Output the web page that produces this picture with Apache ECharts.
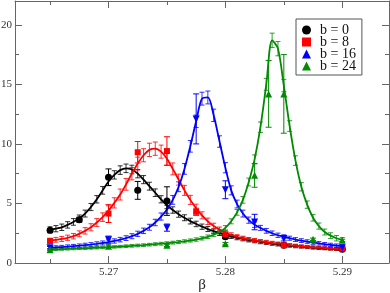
<!DOCTYPE html>
<html><head><meta charset="utf-8">
<script src="https://cdn.jsdelivr.net/npm/echarts@6/dist/echarts.min.js"></script>
<style>html,body{margin:0;padding:0;background:#fff}#c{width:390px;height:293px}</style>
</head><body><div id="c"></div>
<script>
// ---- curve grid (beta) ----
const curveBeta = [5.265,5.2655,5.266,5.2665,5.267,5.2675,5.268,5.2685,5.269,5.2695,
5.27,5.2705,5.271,5.2715,5.272,5.2725,5.273,5.2735,5.274,5.2745,
5.275,5.2755,5.276,5.2765,5.277,5.2775,5.278,5.2785,5.279,5.2795,
5.28,5.2805,5.281,5.2815,5.282,5.2825,5.283,5.2835,5.284,5.2845,
5.285,5.2855,5.286,5.2865,5.287,5.2875,5.288,5.2885,5.289,5.2895,5.29];

const curveB0 = [2.78,2.88,3.0,3.2,3.45,3.75,4.15,4.7,5.35,6.1,
6.85,7.4,7.8,7.95,7.85,7.5,7.0,6.45,5.9,5.35,
4.85,4.45,4.1,3.8,3.52,3.28,3.05,2.85,2.67,2.5,
2.36,2.23,2.12,2.02,1.93,1.85,1.77,1.7,1.63,1.57,
1.51,1.46,1.41,1.37,1.33,1.29,1.25,1.22,1.19,1.16,1.13];
const curveB0Err = [0.26,0.26,0.27,0.27,0.28,0.28,0.29,0.3,0.31,0.32,
0.34,0.35,0.36,0.36,0.36,0.35,0.34,0.33,0.32,0.3,
0.29,0.27,0.26,0.25,0.24,0.23,0.22,0.21,0.2,0.19,
0.18,0.17,0.17,0.16,0.16,0.15,0.15,0.14,0.14,0.14,
0.13,0.13,0.13,0.12,0.12,0.12,0.12,0.11,0.11,0.11,0.11];

const curveB8 = [1.88,1.95,2.02,2.12,2.25,2.45,2.7,3.0,3.4,3.85,
4.4,5.05,5.75,6.6,7.5,8.35,9.05,9.5,9.6,9.35,
8.75,7.9,7.0,6.1,5.3,4.6,4.0,3.5,3.1,2.8,
2.55,2.35,2.2,2.08,1.98,1.9,1.82,1.75,1.68,1.62,
1.56,1.5,1.45,1.4,1.36,1.32,1.28,1.25,1.21,1.18,1.15];
const curveB8Err = [0.2,0.2,0.21,0.22,0.23,0.25,0.27,0.3,0.33,0.36,
0.4,0.43,0.46,0.49,0.52,0.54,0.55,0.56,0.56,0.55,
0.53,0.5,0.46,0.42,0.38,0.34,0.3,0.27,0.24,0.22,
0.2,0.19,0.18,0.17,0.16,0.16,0.15,0.15,0.14,0.14,
0.13,0.13,0.13,0.12,0.12,0.12,0.11,0.11,0.11,0.1,0.1];

const curveB16 = [1.28,1.31,1.34,1.37,1.41,1.45,1.5,1.55,1.61,1.68,
1.76,1.85,1.96,2.09,2.25,2.45,2.7,3.0,3.4,3.9,
4.5,5.3,6.4,7.9,9.8,11.9,13.8,13.9,12.4,10.2,
8.0,6.1,4.95,4.15,3.6,3.22,2.95,2.7,2.5,2.33,
2.2,2.08,1.97,1.88,1.8,1.72,1.65,1.58,1.52,1.46,1.4];
const curveB16Err = [0.14,0.14,0.14,0.15,0.15,0.15,0.16,0.16,0.17,0.17,
0.18,0.18,0.19,0.2,0.21,0.22,0.23,0.25,0.27,0.3,
0.33,0.37,0.41,0.45,0.49,0.52,0.54,0.54,0.52,0.48,
0.43,0.38,0.33,0.29,0.26,0.23,0.21,0.2,0.19,0.18,
0.17,0.17,0.16,0.16,0.15,0.15,0.15,0.14,0.14,0.14,0.14];

const curveB24 = [1.12,1.14,1.16,1.18,1.2,1.22,1.24,1.26,1.28,1.3,
1.32,1.35,1.38,1.41,1.44,1.47,1.5,1.54,1.58,1.62,
1.66,1.71,1.76,1.82,1.89,1.97,2.07,2.2,2.37,2.6,
2.95,3.5,4.25,5.3,6.8,8.7,11.4,15.0,18.7,18.0,
14.9,11.5,8.6,6.4,4.9,3.8,3.1,2.6,2.3,2.08,1.92];
const curveB24Err = [0.09,0.09,0.09,0.09,0.09,0.09,0.1,0.1,0.1,0.1,
0.1,0.1,0.1,0.11,0.11,0.11,0.11,0.11,0.12,0.12,
0.12,0.12,0.13,0.13,0.13,0.14,0.14,0.15,0.16,0.17,
0.19,0.21,0.24,0.28,0.33,0.38,0.44,0.5,0.6,0.6,
0.52,0.45,0.4,0.35,0.31,0.28,0.26,0.25,0.24,0.23,0.22];

// ---- measured points ----
const ptsB0Beta = [5.265,5.2675,5.27,5.2725,5.275,5.28,5.285,5.29];
const ptsB0 = [2.74,3.64,7.2,6.1,5.2,2.2,1.5,1.15];
const ptsB0Err = [0.15,0.2,0.7,0.75,1.2,0.15,0.1,0.1];

const ptsB8Beta = [5.265,5.27,5.2725,5.275,5.2775,5.28,5.285,5.29];
const ptsB8 = [1.85,4.15,9.3,9.4,4.3,2.4,1.49,1.2];
const ptsB8Err = [0.1,0.75,0.9,1.2,0.3,0.2,0.1,0.08];

const ptsB16Beta = [5.265,5.27,5.275,5.2775,5.28,5.2825,5.285,5.29];
const ptsB16 = [1.29,1.96,2.97,12.1,6.15,3.44,2.05,1.29];
const ptsB16Err = [0.1,0.3,0.3,2.1,0.75,0.65,0.2,0.1];

const ptsB24Beta = [5.265,5.27,5.275,5.28,5.2825,5.2837,5.285,5.2875,5.29];
const ptsB24 = [1.12,1.4,1.48,1.62,7.36,14.2,14.2,1.99,1.9];
const ptsB24Err = [0.08,0.1,0.1,0.1,1.0,2.8,3.3,0.1,0.1];

// ---- axes ----
const xMajorTicks = [5.27,5.28,5.29];
const xMinorTicks = [5.265,5.275,5.285];
const yMajorTicks = [0,5,10,15,20];
const yMinorTicks = [2.5,7.5,12.5,17.5];
const XMIN = 5.262, XMAX = 5.294, YMIN = 0, YMAX = 22;

const legendNames = ['b = 0','b = 8','b = 16','b = 24'];
const colors = ['#000000','#ff0000','#0000ff','#008b00'];

const zip3 = (a,b,c) => a.map((v,i)=>[v,b[i],c[i]]);
const zip2 = (a,b) => a.map((v,i)=>[v,b[i]]);

function errRender(capHalf, opacity, lw) {
  return function(params, api) {
    const x = api.value(0), y = api.value(1), e = api.value(2);
    const t = api.coord([x, y + e]);
    const b = api.coord([x, y - e]);
    const style = {stroke: api.visual('color'), lineWidth: lw, opacity: opacity};
    return {type:'group', children:[
      {type:'line', shape:{x1:t[0],y1:t[1],x2:b[0],y2:b[1]}, style:style},
      {type:'line', shape:{x1:t[0]-capHalf,y1:t[1],x2:t[0]+capHalf,y2:t[1]}, style:style},
      {type:'line', shape:{x1:b[0]-capHalf,y1:b[1],x2:b[0]+capHalf,y2:b[1]}, style:style}
    ]};
  };
}

const curves = [[curveB0,curveB0Err],[curveB8,curveB8Err],[curveB16,curveB16Err],[curveB24,curveB24Err]];
const pts = [[ptsB0Beta,ptsB0,ptsB0Err],[ptsB8Beta,ptsB8,ptsB8Err],[ptsB16Beta,ptsB16,ptsB16Err],[ptsB24Beta,ptsB24,ptsB24Err]];
const symbols = [['circle',7,0],['rect',6,0],['triangle',7,180],['triangle',7,0]];

const series = [];
curves.forEach((c,i)=>{
  series.push({type:'custom', name:'fitErr'+i, renderItem: errRender(2.5,0.8,1), data: zip3(curveBeta,c[0],c[1]),
    encode:{x:0,y:1}, itemStyle:{color:colors[i]}, silent:true, clip:true, z:2});
  series.push({type:'line', name:'fit'+i, data: zip2(curveBeta,c[0]), smooth:0.3, showSymbol:false,
    lineStyle:{color:colors[i], width:1.8}, itemStyle:{color:colors[i]}, silent:true, z:2});
});
pts.forEach((p,i)=>{
  series.push({type:'custom', name:'ptErr'+i, renderItem: errRender(3,1,1), data: zip3(p[0],p[1],p[2]),
    encode:{x:0,y:1}, itemStyle:{color:colors[i]}, silent:true, z:4});
});
pts.forEach((p,i)=>{
  series.push({type:'scatter', name:legendNames[i], data: zip2(p[0],p[1]), symbol:symbols[i][0],
    symbolSize:symbols[i][1], symbolRotate:symbols[i][2], itemStyle:{color:colors[i], opacity:1}, z:5});
});

const axisCol = '#666';
const font = 'Liberation Serif';
function xAx(pos, ticks, len, labels, line) {
  return {type:'value', position:pos, min:XMIN, max:XMAX, scale:true,
    axisLine:{show:line, onZero:false, lineStyle:{color:axisCol,width:1}},
    axisTick:{show:true, inside:true, length:len, customValues:ticks, lineStyle:{color:axisCol}},
    axisLabel:{show:labels, customValues:ticks, margin:4, color:'#333', fontFamily:font, fontSize:11,
      formatter:v=>Number(v).toFixed(2)},
    splitLine:{show:false}};
}
function yAx(pos, ticks, len, labels, line) {
  return {type:'value', position:pos, min:YMIN, max:YMAX,
    axisLine:{show:line, onZero:false, lineStyle:{color:axisCol,width:1}},
    axisTick:{show:true, inside:true, length:len, customValues:ticks, lineStyle:{color:axisCol}},
    axisLabel:{show:labels, customValues:ticks, margin:3, color:'#333', fontFamily:font, fontSize:11},
    splitLine:{show:false}};
}
const xb = xAx('bottom', xMajorTicks, 7, true, true);
xb.name = 'β'; xb.nameLocation = 'middle'; xb.nameGap = 15; xb.nameMoveOverlap = false;
xb.nameTextStyle = {fontFamily:font, fontSize:15, color:'#222'};

const chart = echarts.init(document.getElementById('c'), null, {renderer:'canvas'});
chart.setOption({
  animation:false,
  backgroundColor:'#fff',
  grid:{left:15, right:1, top:1, bottom:30, containLabel:false, outerBoundsMode:'none'},
  xAxis:[xb, xAx('bottom', xMinorTicks, 4, false, false), xAx('top', xMajorTicks, 7, false, true), xAx('top', xMinorTicks, 4, false, false)],
  yAxis:[yAx('left', yMajorTicks, 7, true, true), yAx('left', yMinorTicks, 4, false, false), yAx('right', yMajorTicks, 7, false, true), yAx('right', yMinorTicks, 4, false, false)],
  legend:{data:legendNames, orient:'vertical', left:296, top:19, itemWidth:9, itemHeight:9, itemGap:-2,
    padding:[4,6,2,6], backgroundColor:'#fff', borderColor:'#555', borderWidth:1, borderRadius:0,
    textStyle:{fontFamily:font, fontSize:14, color:'#111', padding:[0,0,0,4]}, selectedMode:false},
  series:series
});
</script></body></html>
